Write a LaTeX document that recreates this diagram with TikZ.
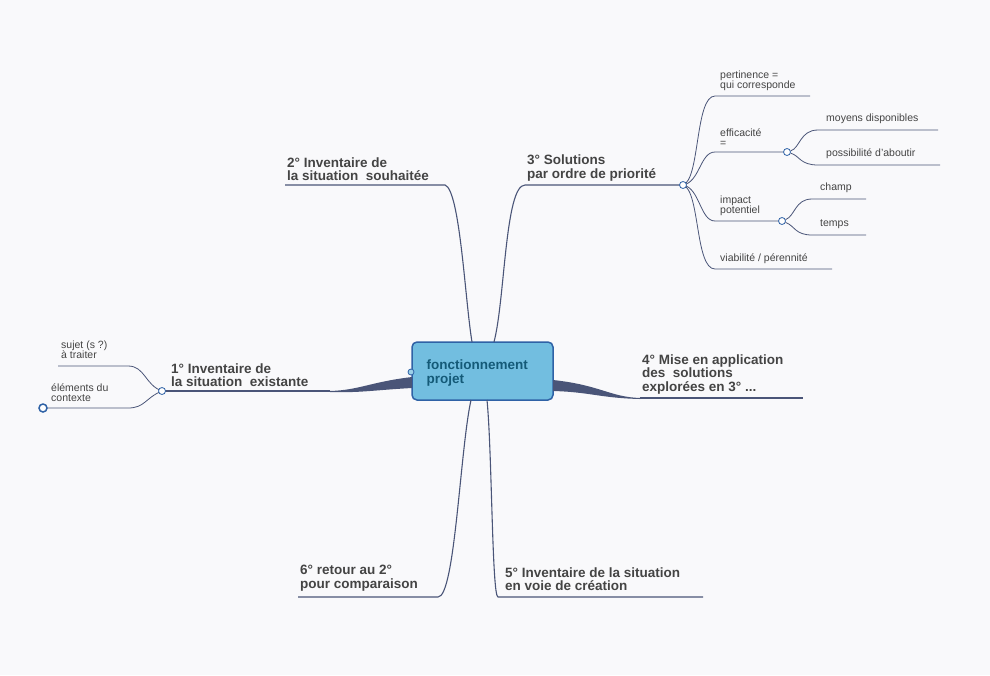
\documentclass[tikz,border=0pt]{standalone}
\usepackage{fontspec}
\setmainfont{Liberation Sans}
\usetikzlibrary{positioning}
\definecolor{bgc}{HTML}{F9F9FB}
\definecolor{linec}{HTML}{4A5578}
\definecolor{txtc}{HTML}{444444}
\definecolor{hubfill}{HTML}{72BEE0}
\definecolor{hubdraw}{HTML}{2F62A6}
\definecolor{hubtxt}{HTML}{145A78}
\tikzset{
  branch/.style={draw=linec,line width=1.1pt},
  twig/.style={draw=linec,line width=0.8pt},
  mainlbl/.style={anchor=south west,inner sep=1pt,align=left,text=txtc,font=\fontsize{13.5}{13.5}\selectfont\bfseries},
  sublbl/.style={anchor=south west,inner sep=1pt,align=left,text=txtc,font=\fontsize{10.5}{10}\selectfont},
  knot/.style={circle,draw=hubdraw,fill=white,line width=0.8pt,inner sep=0pt,minimum size=7pt},
}
\begin{document}
\begin{tikzpicture}[x=1pt,y=-1pt]
  \fill[bgc] (0,0) rectangle (990,675);
  \useasboundingbox (0,0) rectangle (990,675);

  % centre
  \node (hub) [draw=hubdraw,fill=hubfill,line width=1.5pt,rounded corners=5pt,
    minimum width=141pt,minimum height=58pt] at (482.5,371) {};
  \node [anchor=west,align=left,text=hubtxt,font=\fontsize{13.5}{14}\selectfont\bfseries] at (423,373) {fonctionnement\\projet};
  \node (hubknot) [knot,minimum size=6pt,fill=hubfill!70!white] at (411,372) {};

  % 1
  \coordinate (e1) at (330,391);
  \fill[linec] (412,377) .. controls (370,382) and (360,390) .. (e1) -- (330,392)
    .. controls (360,393) and (375,390) .. (412,388) -- cycle;
  \draw[branch] (e1) -- (162,391);
  \node [mainlbl] at (170,388) {1° Inventaire de\\la situation\ \ existante};
  \draw[twig] (162,391) .. controls (145,385) and (145,366) .. (128,366) -- (58,366);
  \draw[twig] (162,391) .. controls (145,398) and (145,408) .. (128,408) -- (46,408);
  \node (k1) [knot] at (162,391) {};
  \node (k0) [knot,line width=1.5pt,minimum size=8pt] at (43,408) {};
  \node [sublbl] at (60,360) {sujet (s ?)\\à traiter};
  \node [sublbl] at (50,403) {éléments du\\contexte};

  % 2
  \coordinate (e2) at (445,185);
  \draw[branch] (472,342) .. controls (465,300) and (460,190) .. (e2) -- (285,185);
  \node [mainlbl] at (286,182) {2° Inventaire de\\la situation\ \ souhaitée};

  % 3
  \node (k31) [knot] at (787,152) {};
  \node (k32) [knot] at (782,221) {};
  \draw[branch] (494,342) .. controls (505,300) and (505,185) .. (525,185) -- (680,185);
  \draw[twig] (683,185) .. controls (700,180) and (695,96) .. (715,96) -- (810,96);
  \draw[twig] (683,185) .. controls (700,182) and (700,152) .. (715,152) -- (k31);
  \draw[twig] (683,185) .. controls (700,188) and (700,221) .. (715,221) -- (k32);
  \draw[twig] (683,185) .. controls (700,190) and (695,269) .. (715,269) -- (832,269);
  \node (k3) [knot] at (683,185) {};
  \node [mainlbl] at (526,182) {3° Solutions\\par ordre de priorité};
  \node [sublbl] at (719,92) {pertinence =\\qui corresponde};
  \node [sublbl] at (719,148) {efficacité\\=};
  \node [sublbl] at (719,217) {impact\\potentiel};
  \node [sublbl] at (719,265) {viabilité / pérennité};
  \draw[twig] (k31) .. controls (800,148) and (800,130) .. (818,130) -- (938,130);
  \draw[twig] (k31) .. controls (800,156) and (800,165) .. (818,165) -- (940,165);
  \node [sublbl] at (825,125) {moyens disponibles};
  \node [sublbl] at (825,160) {possibilité d'aboutir};
  \draw[twig] (k32) .. controls (795,216) and (795,199) .. (812,199) -- (866,199);
  \draw[twig] (k32) .. controls (795,226) and (795,235) .. (812,235) -- (866,235);
  \node [sublbl] at (819,194) {champ};
  \node [sublbl] at (819,230) {temps};

  % 4
  \coordinate (e4) at (640,398);
  \fill[linec] (553,380) .. controls (600,385) and (610,397) .. (e4) -- (640,399)
    .. controls (600,398) and (590,392) .. (553,391) -- cycle;
  \draw[branch] (e4) -- (803,398);
  \node [mainlbl] at (641,395) {4° Mise en application\\des\ \ solutions\\explorées en 3° ...};

  % 5
  \coordinate (e5) at (498,597);
  \draw[branch] (487,400) .. controls (492,450) and (492,597) .. (e5) -- (703,597);
  \node [mainlbl] at (504,592) {5° Inventaire de la situation\\en voie de création};

  % 6
  \coordinate (e6) at (438,597);
  \draw[branch] (471,400) .. controls (460,450) and (455,597) .. (e6) -- (298,597);
  \node [mainlbl] at (299,592) {6° retour au 2°\\pour comparaison};
\end{tikzpicture}
\end{document}
